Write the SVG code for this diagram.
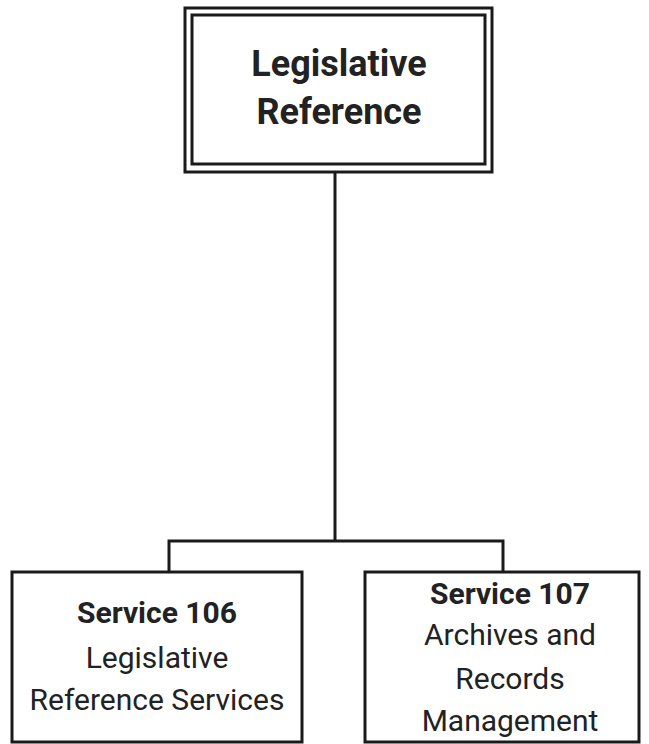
<svg xmlns="http://www.w3.org/2000/svg" width="649" height="744" viewBox="0 0 649 744">
<style>
.box{fill:#fff;stroke:#1a1a1a;stroke-width:3}
.conn{fill:none;stroke:#1a1a1a;stroke-width:3}
text{font-family:Roboto,"Liberation Sans",sans-serif;fill:#222;text-anchor:middle}
.title{font-size:36px;font-weight:bold}
.b{font-size:30px;font-weight:bold}
.n{font-size:30px}
</style>
<rect width="649" height="744" fill="#fff"/>
<g id="connectors">
<path class="conn" d="M335,172 V541 M169,572 V541 H503 V572"/>
</g>
<g id="legislative-reference">
<rect class="box" x="185" y="8" width="307" height="164"/>
<rect class="box" x="192" y="15" width="293" height="149"/>
<text class="title" x="339" y="76">Legislative</text>
<text class="title" x="339" y="124">Reference</text>
</g>
<g id="service-106">
<rect class="box" x="12" y="572" width="290" height="170"/>
<text class="b" x="157" y="623">Service 106</text>
<text class="n" x="157" y="668">Legislative</text>
<text class="n" x="157" y="710">Reference Services</text>
</g>
<g id="service-107">
<rect class="box" x="365" y="572" width="274" height="170"/>
<text class="b" x="510" y="604">Service 107</text>
<text class="n" x="510" y="645">Archives and</text>
<text class="n" x="510" y="689">Records</text>
<text class="n" x="510" y="731">Management</text>
</g>
</svg>
